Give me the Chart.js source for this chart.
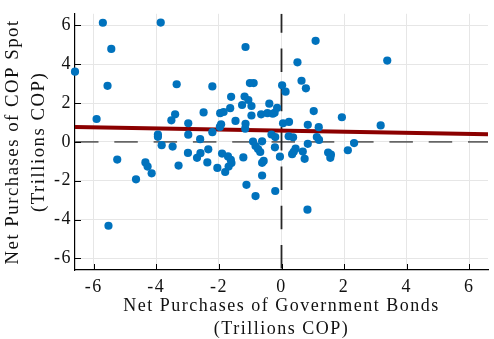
<!DOCTYPE html>
<html>
<head>
<meta charset="utf-8">
<script src="https://cdn.jsdelivr.net/npm/chart.js@4.4.1/dist/chart.umd.min.js"></script>
<style>
  html, body { margin: 0; padding: 0; background: #fff; }
  #wrap { width: 494px; height: 339px; }
</style>
</head>
<body>
<div id="wrap"><canvas id="c" width="494" height="339"></canvas></div>
<script>
// Net purchases of government bonds (x) against net purchases of COP spot (y), trillions COP
const bondPurchases = [
  -6.60, -5.71, -5.44, -5.56, -5.91, -3.86, -3.35, -3.40, -3.52, -2.98,
  -3.95, -3.95, -2.98, -2.49, -2.21, -2.60, -2.21, -1.15, -1.61, -1.18,
  -1.06, -1.01, -0.89, -1.26, -0.96, -1.64, -1.96, -1.85, -1.47, -0.96,
  -1.93, -1.97, -1.15, -1.16, -0.65, -0.45, -0.28, -0.22, -0.39, -0.14,
   0.02,  0.13, -0.91, -0.62, -0.32, -0.20,
   1.09,  0.51,  3.38,  0.64,  0.78,  1.03,  1.93,  3.17,  0.05,  0.24,
   0.84,  1.19,  0.23,  0.37,  1.13,  1.20,
  -3.83, -3.48, -5.25, -4.35, -4.28, -4.15, -4.65, -5.53, -3.29, -2.99,
  -2.70, -2.59, -2.34, -2.37, -2.05, -1.90, -1.80, -1.71, -1.62, -1.60,
  -1.69, -1.22, -1.12, -0.83, -0.83, -0.75, -0.68, -0.62, -0.57, -0.62,
  -0.20, -0.21, -0.05,
   0.83,  0.45,  0.39,  0.34,  0.68,  0.74,  0.84,  1.49,  1.58,  1.56,
   2.12,  2.32
];
const spotPurchases = [
   3.62,  6.14,  4.79,  2.89,  1.18,  6.15,  2.97,  1.42,  1.11,  0.96,
   0.38,  0.26,  0.37,  1.52,  2.86,  0.14,  0.50,  4.89,  2.32,  2.34,
   2.16,  3.03,  3.03,  1.90,  1.85,  1.74,  1.48,  1.54,  1.08,  1.36,
   0.91,  0.77,  0.93,  0.68,  1.42,  1.48,  1.45,  1.50,  1.97,  1.75,
   2.92,  2.59,  0.02,  0.03,  0.38,  0.25,
   5.21,  4.10,  4.19,  3.15,  2.76,  1.59,  1.27,  0.85,  0.96,  1.03,
   0.88,  0.76,  0.29,  0.24,  0.25,  0.10,
  -0.17, -0.24, -0.91, -1.06, -1.27, -1.62, -1.93, -4.32, -1.22, -0.57,
  -0.82, -0.58, -0.38, -1.06, -1.34, -0.60, -1.55, -0.75, -0.92, -1.09,
  -1.27, -0.80, -2.21, -2.79, -0.21, -0.37, -0.52, -1.08, -0.98, -1.73,
  -2.53, -0.28, -0.76,
  -3.49, -0.35, -0.51, -0.63, -0.50, -0.87, -0.10, -0.55, -0.66, -0.82,
  -0.43, -0.06
];
const tickValues = [-6, -4, -2, 0, 2, 4, 6];
const axisMin = -6.6;
const axisMax = 6.6;
// fitted regression line
const fitIntercept = 0.58;
const fitSlope = -0.029;

const xTitle = ['Net Purchases of Government Bonds', '(Trillions COP)'];
const yTitle = ['Net Purchases of COP Spot', '(Trillions COP)'];

const FONT = '"Liberation Serif", "Times New Roman", serif';
const SPACING = '1.5px';

const points = bondPurchases.map((x, i) => ({ x: x, y: spotPurchases[i] }));
const fitPoints = [axisMin, axisMax].map(x => ({ x: x, y: fitIntercept + fitSlope * x }));

const spacingPlugin = {
  id: 'letterSpacing',
  beforeUpdate(chart) { chart.ctx.letterSpacing = SPACING; },
  beforeDraw(chart) { chart.ctx.letterSpacing = SPACING; }
};

const refLines = {
  id: 'refLines',
  beforeDatasetsDraw(chart) {
    const { ctx, chartArea: a, scales: { x, y } } = chart;
    ctx.save();
    ctx.beginPath();
    ctx.rect(a.left, a.top, a.right - a.left, a.bottom - a.top);
    ctx.clip();
    ctx.lineWidth = 1.8;
    ctx.setLineDash([23.5, 15.8]);
    // dashed zero line, horizontal
    const y0 = y.getPixelForValue(0);
    ctx.strokeStyle = '#666666';
    ctx.lineDashOffset = 0;
    ctx.beginPath();
    ctx.moveTo(a.left, y0);
    ctx.lineTo(a.right, y0);
    ctx.stroke();
    // dashed zero line, vertical
    const x0 = x.getPixelForValue(0);
    ctx.strokeStyle = '#262626';
    ctx.lineDashOffset = 4.6;
    ctx.beginPath();
    ctx.moveTo(x0, a.top);
    ctx.lineTo(x0, a.bottom);
    ctx.stroke();
    ctx.restore();
  },
  afterDraw(chart) {
    // short tick marks pointing into the plot area
    const { ctx, chartArea: a, scales: { x, y } } = chart;
    ctx.save();
    ctx.strokeStyle = '#000';
    ctx.lineWidth = 1;
    ctx.beginPath();
    tickValues.forEach(v => {
      const px = Math.round(x.getPixelForValue(v)) + 0.5;
      ctx.moveTo(px, a.bottom);
      ctx.lineTo(px, a.bottom - 6);
      const py = Math.round(y.getPixelForValue(v)) + 0.5;
      ctx.moveTo(a.left, py);
      ctx.lineTo(a.left + 6, py);
    });
    ctx.stroke();
    ctx.restore();
  }
};

const setTicks = s => { s.ticks = tickValues.map(v => ({ value: v })); };

new Chart(document.getElementById('c'), {
  type: 'scatter',
  data: {
    datasets: [
      {
        type: 'scatter',
        data: points,
        backgroundColor: '#0072BD',
        borderWidth: 0,
        pointRadius: 4.1,
        pointHoverRadius: 4.1,
        clip: false,
        order: 1
      },
      {
        type: 'line',
        data: fitPoints,
        borderColor: '#8B0000',
        borderWidth: 4,
        pointRadius: 0,
        fill: false,
        order: 2
      }
    ]
  },
  options: {
    responsive: false,
    animation: false,
    devicePixelRatio: 1,
    events: [],
    layout: { padding: { top: 13, right: 6, left: 0, bottom: 0 } },
    plugins: { legend: { display: false }, tooltip: { enabled: false } },
    scales: {
      x: {
        type: 'linear',
        position: 'bottom',
        min: axisMin,
        max: axisMax,
        afterBuildTicks: setTicks,
        afterFit: s => { s.height = 69; },
        grid: { color: '#e6e6e6', lineWidth: 1, drawTicks: false },
        border: { display: true, color: '#000', width: 1.2 },
        ticks: {
          font: { family: FONT, size: 18 },
          color: '#111',
          padding: 6,
          maxRotation: 0,
          autoSkip: false,
          callback: v => String(v)
        },
        title: {
          display: true,
          text: xTitle,
          font: { family: FONT, size: 18, lineHeight: 1.24 },
          color: '#111',
          padding: { top: 0, bottom: -1 }
        }
      },
      y: {
        type: 'linear',
        position: 'left',
        min: axisMin,
        max: axisMax,
        afterBuildTicks: setTicks,
        afterFit: s => { s.width = 75; },
        grid: { color: '#e6e6e6', lineWidth: 1, drawTicks: false },
        border: { display: true, color: '#000', width: 1.2 },
        ticks: {
          font: { family: FONT, size: 18 },
          color: '#111',
          padding: 3,
          autoSkip: false,
          callback: v => String(v)
        },
        title: {
          display: true,
          text: yTitle,
          font: { family: FONT, size: 18.8, lineHeight: 1.37 },
          color: '#111',
          padding: { top: 0.3, bottom: 0 }
        }
      }
    }
  },
  plugins: [spacingPlugin, refLines]
});
</script>
</body>
</html>
